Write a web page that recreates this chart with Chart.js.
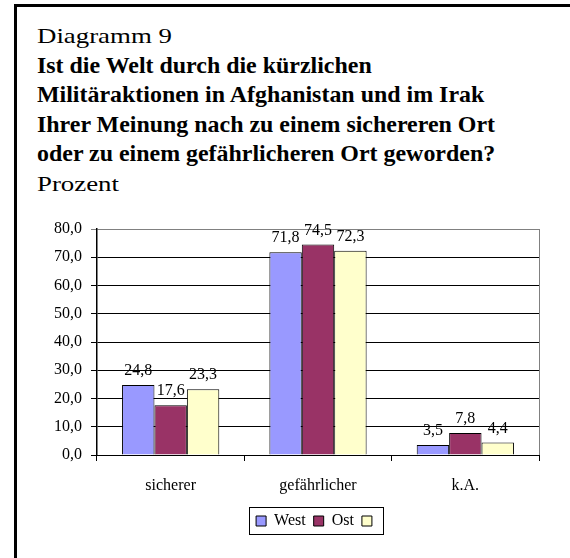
<!DOCTYPE html>
<html>
<head>
<meta charset="utf-8">
<script src="https://cdn.jsdelivr.net/npm/chart.js@4/dist/chart.umd.min.js"></script>
<style>
  body { margin: 0; background: #fff; }
  #wrap { position: relative; width: 570px; height: 558px; overflow: hidden; }
  #frame { position: absolute; left: 14px; top: 4px; width: 600px; height: 600px;
           border-left: 3px solid #000; border-top: 3px solid #000; }
  #head { position: absolute; left: 37px; top: 21px; font-family: 'Liberation Serif', serif;
          color: #000; white-space: nowrap; }
  #head div { line-height: 29.6px; font-size: 22px; transform: scaleX(1.22); transform-origin: left top; }
  #head div.b { font-weight: bold; font-size: 23px; transform: scaleX(1.04); }
  canvas { position: absolute; left: 0; top: 0; }
</style>
</head>
<body>
<div id="wrap">
  <div id="frame"></div>
  <div id="head">
    <div>Diagramm 9</div>
    <div class="b">Ist die Welt durch die kürzlichen</div>
    <div class="b">Militäraktionen in Afghanistan und im Irak</div>
    <div class="b">Ihrer Meinung nach zu einem sichereren Ort</div>
    <div class="b">oder zu einem gefährlicheren Ort geworden?</div>
    <div>Prozent</div>
  </div>
  <canvas id="c" width="570" height="558"></canvas>
</div>
<script>
const categories = ['sicherer', 'gefährlicher', 'k.A.'];
const seriesLabels = ['West', 'Ost', ''];
const westValues = [24.8, 71.8, 3.5];
const ostValues = [17.6, 74.5, 7.8];
const thirdValues = [23.3, 72.3, 4.4];
const colors = ['#9999ff', '#993366', '#ffffcc'];

const fmt = v => v.toFixed(1).replace('.', ',');

Chart.defaults.font.family = "'Liberation Serif', serif";
Chart.defaults.font.size = 16;
Chart.defaults.color = '#000';

// values above the bars
const valueLabels = {
    id: 'valueLabels',
    afterDatasetsDraw(chart) {
        const ctx = chart.ctx;
        ctx.save();
        ctx.font = "16px 'Liberation Serif', serif";
        ctx.fillStyle = '#000';
        ctx.textAlign = 'center';
        ctx.textBaseline = 'alphabetic';
        chart.data.datasets.forEach((ds, i) => {
            chart.getDatasetMeta(i).data.forEach((bar, j) => {
                ctx.fillText(fmt(ds.data[j]), bar.x, bar.y - 10);
            });
        });
        ctx.restore();
    }
};

// legend is centred under the plot, not under the whole canvas
const centerLegend = {
    id: 'centerLegend',
    afterLayout(chart) {
        const lg = chart.legend;
        const a = chart.chartArea;
        const shift = (a.left + a.right) / 2 - (lg.left + lg.right) / 2;
        lg.left += shift;
        lg.right += shift;
    }
};

// gray right edge of plot and box around legend
const frames = {
    id: 'frames',
    afterDraw(chart) {
        const ctx = chart.ctx;
        const a = chart.chartArea;
        ctx.save();
        ctx.strokeStyle = '#808080';
        ctx.lineWidth = 1;
        ctx.beginPath();
        ctx.moveTo(Math.round(a.right) + 0.5, a.top);
        ctx.lineTo(Math.round(a.right) + 0.5, a.bottom);
        ctx.stroke();

        const hb = chart.legend.legendHitBoxes;
        if (hb && hb.length) {
            const first = hb[0], last = hb[hb.length - 1];
            const cy = first.top + first.height / 2;
            const l = Math.round(first.left - 7) + 0.5;
            const r = Math.round(last.left + 10 + 11) + 0.5;
            ctx.strokeStyle = '#000';
            ctx.strokeRect(l, Math.round(cy - 14) + 0.5, r - l, 27);
        }
        ctx.restore();
    }
};

new Chart(document.getElementById('c'), {
    type: 'bar',
    data: {
        labels: categories,
        datasets: [westValues, ostValues, thirdValues].map((v, i) => ({
            label: seriesLabels[i],
            data: v,
            backgroundColor: colors[i],
            borderColor: '#000',
            borderWidth: 1,
            categoryPercentage: 0.66,
            barPercentage: 1
        }))
    },
    options: {
        responsive: false,
        animation: false,
        layout: { padding: { left: 0, top: 229, right: 31, bottom: 19 } },
        plugins: {
            tooltip: { enabled: false },
            legend: {
                position: 'bottom',
                onClick: null,
                labels: { boxWidth: 10, boxHeight: 10, padding: 8, color: '#000' }
            }
        },
        scales: {
            x: {
                afterFit: s => { s.height = 50; },
                grid: { offset: true, drawOnChartArea: false, tickLength: 6, color: '#000' },
                border: { color: '#000', width: 1 },
                ticks: { padding: 15 }
            },
            y: {
                min: 0,
                max: 80,
                afterFit: s => { s.width = 97; },
                grid: {
                    color: c => (c.tick && c.tick.value === 80) ? '#808080' : '#000',
                    tickLength: 6
                },
                border: { color: '#000', width: 1.5 },
                ticks: { stepSize: 10, padding: 9, callback: v => fmt(v) }
            }
        }
    },
    plugins: [valueLabels, centerLegend, frames]
});
</script>
</body>
</html>
